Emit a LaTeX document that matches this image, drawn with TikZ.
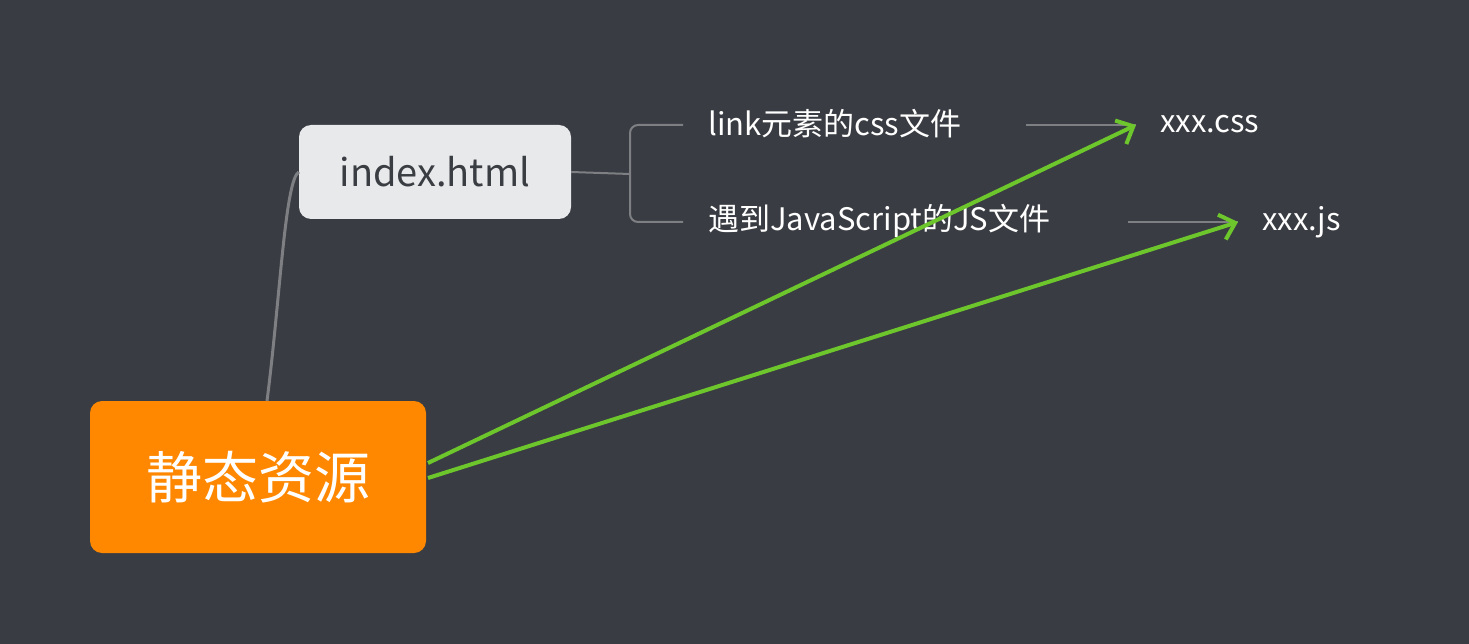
\documentclass[tikz,border=0pt]{standalone}
\usepackage{fontspec}
\setmainfont{Noto Sans CJK SC}
\usetikzlibrary{arrows.meta}
\definecolor{bg}{HTML}{393C42}
\definecolor{org}{HTML}{FF8800}
\definecolor{grn}{HTML}{6CC62C}
\definecolor{gry}{HTML}{7D7F83}
\definecolor{lite}{HTML}{E8E9EB}
\definecolor{dark}{HTML}{3A3D42}
\tikzset{leaf/.style={anchor=west,text=white,font=\fontsize{31}{36}\selectfont,inner sep=0pt},
 link/.style={gry,line width=2pt},
 garrow/.style={grn,line width=4pt,-{Straight Barb[length=14pt,width=26pt,line width=4pt]}}}
\begin{document}
\begin{tikzpicture}[x=1pt,y=-1pt]
\fill[bg] (0,0) rectangle (1469,644);
\useasboundingbox (0,0) rectangle (1469,644);
\node[fill=org,rounded corners=12pt,minimum width=336pt,minimum height=152pt,text=white,font=\fontsize{56}{60}\selectfont] (root) at (258,477) {静态资源};
\node[fill=lite,rounded corners=12pt,minimum width=272pt,minimum height=94pt,text=dark,font=\fontsize{38}{44}\selectfont] (idx) at (435,172) {index.html};
\draw[gry,line width=3pt] (267,401) .. controls (280,300) and (285,180) .. (idx.west);
\coordinate (b1) at (630,174);
\coordinate (c1) at (683,125);
\coordinate (c2) at (683,222);
\draw[link] (idx.east) -- (b1);
\draw[link,rounded corners=8pt] (c1) -| (b1) |- (c2);
\node[leaf] (t1) at (708,124) {link元素的css文件};
\node[leaf] (t2) at (708,221) {遇到JavaScript的JS文件};
\node[leaf] (css) at (1160,124) {xxx.css};
\node[leaf] (js) at (1262,222) {xxx.js};
\coordinate (e1) at (1136,125);
\coordinate (e2) at (1238,222);
\draw[link] (1026,125) -- (e1);
\draw[link] (1128,222) -- (e2);
\draw[garrow] (428,463) -- (e1);
\draw[garrow] (428,478) -- (e2);
\end{tikzpicture}
\end{document}
